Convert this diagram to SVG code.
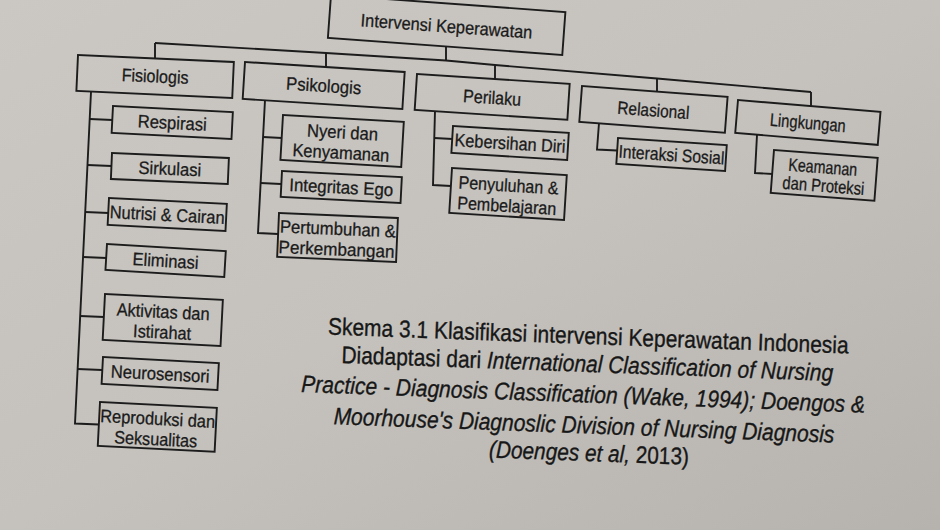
<svg xmlns="http://www.w3.org/2000/svg" width="940" height="530" viewBox="0 0 940 530">
  <defs>
    <linearGradient id="paper" x1="0" y1="0" x2="1" y2="1">
      <stop offset="0" stop-color="#cbc8c3"/>
      <stop offset="0.5" stop-color="#c5c2bd"/>
      <stop offset="1" stop-color="#b6b3ae"/>
    </linearGradient>
    <style>
      .box rect { fill: none; stroke: #1c1c1c; stroke-width: 1.9; }
      .lbl { font-family: "Liberation Sans", Arial, sans-serif; font-size: 18px; fill: #1a1a1a; stroke: #1a1a1a; stroke-width: 0.3; text-anchor: middle; }
      .conn path { fill: none; stroke: #1c1c1c; stroke-width: 1.9; stroke-linejoin: miter; }
      .cap { font-family: "Liberation Sans", Arial, sans-serif; font-size: 24px; fill: #171717; stroke: #171717; stroke-width: 0.35; text-anchor: middle; }
      .it { font-style: italic; }
    </style>
  </defs>

  <!-- paper -->
  <rect width="940" height="530" fill="url(#paper)"/>

  <!-- connectors -->
  <g id="connectors" class="conn">
    <!-- top bus with drops -->
    <path d="M155,43 L326,53 L446,60.5 L495,65 L657,78.5 L811,92"/>
    <path d="M446,46.6 V60.5"/>
    <path d="M155,43 V58.5"/>
    <path d="M326,53 V67"/>
    <path d="M495,65 V79"/>
    <path d="M657,78.5 V91.5"/>
    <path d="M811,92 V106"/>
    <!-- Fisiologis branch -->
    <path d="M91,92 L75,423.5 L99,424.5"/>
    <path d="M89.7,119 L112.5,120"/>
    <path d="M87.5,165 L111.5,166"/>
    <path d="M85.2,212 L108.5,213"/>
    <path d="M83,257 L106.5,258"/>
    <path d="M80.1,316 L104,317"/>
    <path d="M77.6,369 L102,370"/>
    <!-- Psikologis branch -->
    <path d="M265,100 L258,233 L278,234"/>
    <path d="M263,137 L282,138"/>
    <path d="M260.6,183 L281,184"/>
    <!-- Perilaku branch -->
    <path d="M435,111 L433,185 L451,186"/>
    <path d="M434.4,138 L452.5,139"/>
    <!-- Relasional branch -->
    <path d="M599,123 L597,149.5 L617,150.5"/>
    <!-- Lingkungan branch -->
    <path d="M757,135 L755,173 L772.5,174"/>
  </g>

  <!-- root -->
  <g id="intervensi-keperawatan" class="box" transform="translate(331,-5) rotate(4.15)">
    <rect width="235" height="43"/>
    <text class="lbl" x="117.5" y="29" textLength="172" lengthAdjust="spacingAndGlyphs">Intervensi Keperawatan</text>
  </g>

  <!-- categories -->
  <g id="fisiologis" class="box" transform="translate(78,55) rotate(2.57)">
    <rect width="156" height="36"/>
    <text class="lbl" x="78" y="24" textLength="67" lengthAdjust="spacingAndGlyphs">Fisiologis</text>
  </g>
  <g id="psikologis" class="box" transform="translate(245,62) rotate(3.58)">
    <rect width="160" height="37"/>
    <text class="lbl" x="80" y="25" textLength="75" lengthAdjust="spacingAndGlyphs">Psikologis</text>
  </g>
  <g id="perilaku" class="box" transform="translate(417,74) rotate(3.7)">
    <rect width="153" height="36"/>
    <text class="lbl" x="76.5" y="25" textLength="58" lengthAdjust="spacingAndGlyphs">Perilaku</text>
  </g>
  <g id="relasional" class="box" transform="translate(582,86) rotate(4.3)">
    <rect width="146" height="36"/>
    <text class="lbl" x="73" y="25" textLength="72" lengthAdjust="spacingAndGlyphs">Relasional</text>
  </g>
  <g id="lingkungan" class="box" transform="translate(738,100) rotate(4.8)">
    <rect width="143" height="33"/>
    <text class="lbl" x="71.5" y="23" textLength="76" lengthAdjust="spacingAndGlyphs">Lingkungan</text>
  </g>

  <!-- Fisiologis items -->
  <g id="respirasi" class="box" transform="translate(113,106) rotate(2.9)">
    <rect width="120" height="27"/>
    <text class="lbl" x="60" y="20" textLength="69" lengthAdjust="spacingAndGlyphs">Respirasi</text>
  </g>
  <g id="sirkulasi" class="box" transform="translate(112,153) rotate(2.45)">
    <rect width="117" height="26"/>
    <text class="lbl" x="58.5" y="19.5" textLength="63" lengthAdjust="spacingAndGlyphs">Sirkulasi</text>
  </g>
  <g id="nutrisi-cairan" class="box" transform="translate(109,198) rotate(2.9)">
    <rect width="118" height="27"/>
    <text class="lbl" x="59" y="20" textLength="115" lengthAdjust="spacingAndGlyphs">Nutrisi &amp; Cairan</text>
  </g>
  <g id="eliminasi" class="box" transform="translate(107,244) rotate(3.4)">
    <rect width="119" height="26"/>
    <text class="lbl" x="59.5" y="19.5" textLength="66" lengthAdjust="spacingAndGlyphs">Eliminasi</text>
  </g>
  <g id="aktivitas-istirahat" class="box" transform="translate(105,294) rotate(2.9)">
    <rect width="118" height="46"/>
    <text class="lbl" x="59" y="21" textLength="93" lengthAdjust="spacingAndGlyphs">Aktivitas dan</text>
    <text class="lbl" x="59" y="41.5" textLength="58" lengthAdjust="spacingAndGlyphs">Istirahat</text>
  </g>
  <g id="neurosensori" class="box" transform="translate(103,357) rotate(3)">
    <rect width="116" height="27"/>
    <text class="lbl" x="58" y="20" textLength="99" lengthAdjust="spacingAndGlyphs">Neurosensori</text>
  </g>
  <g id="reproduksi-seksualitas" class="box" transform="translate(100,402) rotate(2.9)">
    <rect width="117" height="44"/>
    <text class="lbl" x="58.5" y="20" textLength="115" lengthAdjust="spacingAndGlyphs">Reproduksi dan</text>
    <text class="lbl" x="57.5" y="40.5" textLength="83" lengthAdjust="spacingAndGlyphs">Seksualitas</text>
  </g>

  <!-- Psikologis items -->
  <g id="nyeri-kenyamanan" class="box" transform="translate(283,115) rotate(3.3)">
    <rect width="121" height="45"/>
    <text class="lbl" x="60.5" y="20" textLength="71" lengthAdjust="spacingAndGlyphs">Nyeri dan</text>
    <text class="lbl" x="60" y="40.5" textLength="97" lengthAdjust="spacingAndGlyphs">Kenyamanan</text>
  </g>
  <g id="integritas-ego" class="box" transform="translate(282,171) rotate(2.9)">
    <rect width="120" height="26"/>
    <text class="lbl" x="60" y="19.5" textLength="104" lengthAdjust="spacingAndGlyphs">Integritas Ego</text>
  </g>
  <g id="pertumbuhan-perkembangan" class="box" transform="translate(279,213) rotate(2.4)">
    <rect width="119" height="44"/>
    <text class="lbl" x="59.5" y="19.5" textLength="116" lengthAdjust="spacingAndGlyphs">Pertumbuhan &amp;</text>
    <text class="lbl" x="59" y="40" textLength="116" lengthAdjust="spacingAndGlyphs">Perkembangan</text>
  </g>

  <!-- Perilaku items -->
  <g id="kebersihan-diri" class="box" transform="translate(453,126) rotate(3.45)">
    <rect width="116" height="27"/>
    <text class="lbl" x="58" y="20" textLength="111" lengthAdjust="spacingAndGlyphs">Kebersihan Diri</text>
  </g>
  <g id="penyuluhan-pembelajaran" class="box" transform="translate(452,168) rotate(3.5)">
    <rect width="115" height="45"/>
    <text class="lbl" x="57.5" y="20" textLength="100" lengthAdjust="spacingAndGlyphs">Penyuluhan &amp;</text>
    <text class="lbl" x="57" y="40.5" textLength="99" lengthAdjust="spacingAndGlyphs">Pembelajaran</text>
  </g>

  <!-- Relasional item -->
  <g id="interaksi-sosial" class="box" transform="translate(618,138) rotate(3.7)">
    <rect width="109" height="26"/>
    <text class="lbl" x="54.5" y="19.5" textLength="106" lengthAdjust="spacingAndGlyphs">Interaksi Sosial</text>
  </g>

  <!-- Lingkungan item -->
  <g id="keamanan-proteksi" class="box" transform="translate(774,150) rotate(4.4)">
    <rect width="104" height="43"/>
    <text class="lbl" x="50" y="19.5" textLength="69" lengthAdjust="spacingAndGlyphs">Keamanan</text>
    <text class="lbl" x="52" y="38" textLength="82" lengthAdjust="spacingAndGlyphs">dan Proteksi</text>
  </g>

  <!-- caption -->
  <g id="caption" transform="translate(588,344) rotate(2.1)">
    <text class="cap" x="0" y="0" textLength="521" lengthAdjust="spacingAndGlyphs">Skema 3.1 Klasifikasi intervensi Keperawatan Indonesia</text>
    <text class="cap" x="0" y="28" textLength="492" lengthAdjust="spacingAndGlyphs">Diadaptasi dari <tspan class="it">International Classification of Nursing</tspan></text>
    <text class="cap it" x="-3" y="58.5" textLength="564" lengthAdjust="spacingAndGlyphs">Practice - Diagnosis Classification (Wake, 1994); Doengos &amp;</text>
    <text class="cap it" x="-1" y="89.5" textLength="501" lengthAdjust="spacingAndGlyphs">Moorhouse's Diagnoslic Division of Nursing Diagnosis</text>
    <text class="cap" x="5" y="117" textLength="200" lengthAdjust="spacingAndGlyphs"><tspan class="it">(Doenges et al,</tspan> 2013)</text>
  </g>
</svg>
